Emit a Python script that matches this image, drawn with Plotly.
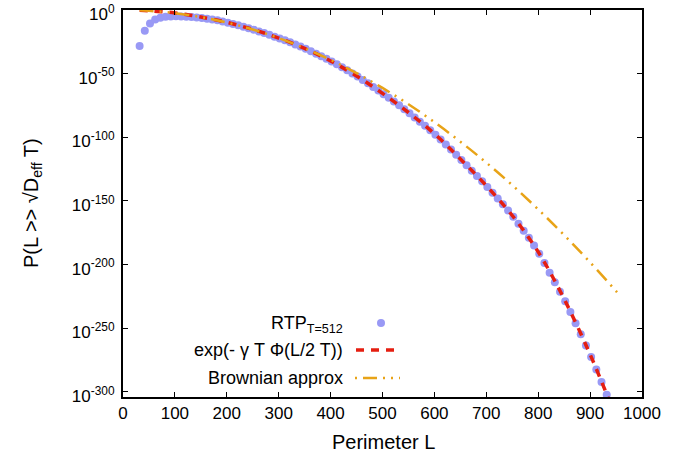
import numpy as np
import plotly.graph_objects as go

# ---- data (log10 of probability) ----
rtp_L = list(range(32, 933, 10))
rtp_log10P = [
    -28.3, -16.3, -10.5, -7.5, -6.0, -5.3, -5.0, -4.9, -5.0, -5.2,
    -5.5, -5.9, -6.3, -6.8, -7.4, -8.1, -9.0, -9.9, -10.9, -12.0,
    -13.1, -14.3, -15.5, -16.8, -18.1, -19.5, -20.9, -22.3, -23.8, -25.4,
    -27.0, -28.7, -30.5, -32.4, -34.3, -36.3, -38.3, -40.4, -42.6, -44.9,
    -47.3, -49.8, -52.3, -54.9, -57.6, -60.4, -63.2, -66.1, -69.0, -71.9,
    -74.9, -77.9, -81.1, -84.4, -87.7, -91.0, -94.5, -98.0, -101.8, -105.6,
    -109.6, -113.7, -117.8, -122.0, -126.2, -130.4, -134.6, -139.0, -143.5, -148.0,
    -152.6, -157.4, -162.4, -167.8, -173.3, -178.9, -185.0, -191.4, -198.8, -206.3,
    -213.8, -221.3, -228.7, -237.3, -246.0, -254.7, -263.5, -272.5, -282.3, -292.2,
    -302.2,
]

ldf_L = [32, 50, 75, 100, 150, 200, 250, 300, 350, 400, 450, 500, 550, 600,
         650, 700, 750, 800, 850, 900, 940]
ldf_log10P = [-0.25, -0.6, -1.35, -2.3, -5.5, -9.7, -15.2, -22.0, -30.2, -40.0,
              -51.8, -65.5, -80.5, -97.2, -117.0, -138.0, -161.4, -190.0, -227.0,
              -270.5, -310.0]

brown_L = [32, 50, 100, 150, 200, 250, 300, 350, 400, 450, 500, 550, 600,
           650, 700, 750, 800, 850, 900, 950, 958]
brown_log10P = [-0.25, -0.61, -2.45, -5.5, -9.8, -15.3, -22.0, -30.0, -39.2, -49.6,
                -61.2, -74.0, -88.1, -103.4, -119.9, -137.6, -156.6, -176.8,
                -198.2, -220.8, -224.6]

x_ticks = [0, 100, 200, 300, 400, 500, 600, 700, 800, 900, 1000]
y_tick_exps = [0, -50, -100, -150, -200, -250, -300]

# ---- styles ----
BLUE = "#9999f5"
RED = "#e51e10"
ORANGE = "#e8a317"
FONT = "Liberation Sans, Arial, Helvetica, sans-serif"

fig = go.Figure()
fig.add_trace(go.Scatter(
    x=rtp_L, y=10.0 ** np.array(rtp_log10P), mode="markers",
    marker=dict(color=BLUE, size=8, line=dict(width=0)),
    name="RTP", showlegend=False, cliponaxis=True))
fig.add_trace(go.Scatter(
    x=ldf_L, y=10.0 ** np.array(ldf_log10P), mode="lines",
    line=dict(color=RED, width=3.5, dash="8px,7px", shape="spline"),
    name="ldf", showlegend=False))
fig.add_trace(go.Scatter(
    x=brown_L, y=10.0 ** np.array(brown_log10P), mode="lines",
    line=dict(color=ORANGE, width=2.5, dash="14px,6px,2px,6px,2px,6px", shape="spline"),
    name="brown", showlegend=False))

# body margin is removed by the post script, so the figure sits at (0, 0)
OFF = 0
W, H = 692, 459
ml, mr, mt, mb = 123 - OFF, 50 + OFF, 10 - OFF, 62 + OFF
pw, ph = W - ml - mr, H - mt - mb

def px(xp):  # window pixel -> paper
    return (xp - OFF - ml) / pw

def py(yp):
    return (H - mb - (yp - OFF)) / ph

fig.update_layout(
    width=W, height=H,
    margin=dict(l=ml, r=mr, t=mt, b=mb, autoexpand=False),
    paper_bgcolor="white", plot_bgcolor="white",
    font=dict(family=FONT, size=17, color="black"),
    showlegend=False,
    xaxis=dict(
        range=[0, 1000], tickvals=x_ticks, ticktext=[str(v) for v in x_ticks],
        ticks="inside", ticklen=5, tickwidth=1, tickcolor="black",
        showline=True, linecolor="black", linewidth=2, mirror="allticks",
        showgrid=False, zeroline=False, automargin=False,
        ticklabeloverflow="allow",
        tickfont=dict(size=17),
    ),
    yaxis=dict(
        type="log", range=[-304.0, 0.02],
        tickvals=[10.0 ** e for e in y_tick_exps],
        ticktext=["10<sup>%d</sup>" % e for e in y_tick_exps],
        ticks="inside", ticklen=5, tickwidth=1, tickcolor="black",
        showline=True, linecolor="black", linewidth=2, mirror="allticks",
        showgrid=False, zeroline=False, automargin=False,
        ticklabelstandoff=3, ticklabelshift=4, ticklabeloverflow="allow",
        tickfont=dict(size=17),
    ),
)

# axis titles
fig.add_annotation(x=px(383), y=py(442), xref="paper", yref="paper",
                   text="Perimeter L", showarrow=False,
                   xanchor="center", yanchor="middle",
                   font=dict(family=FONT, size=20, color="black"))
fig.add_annotation(x=px(33), y=py(203), xref="paper", yref="paper",
                   text="P(L >> √D<sub>eff</sub> T)", showarrow=False, textangle=-90,
                   xanchor="center", yanchor="middle",
                   font=dict(family=FONT, size=20, color="black"))

# ---- gnuplot-style key (text right-aligned, sample on the right) ----
key_font = dict(family=FONT, size=18, color="black")
fig.add_annotation(x=px(345), y=py(324), xref="paper", yref="paper",
                   text="RTP<sub>T=512</sub>", showarrow=False,
                   xanchor="right", yanchor="middle", font=key_font)
fig.add_annotation(x=px(345), y=py(350), xref="paper", yref="paper",
                   text="exp(- γ T Φ(L/2 T))", showarrow=False,
                   xanchor="right", yanchor="middle", font=key_font)
fig.add_annotation(x=px(345), y=py(378), xref="paper", yref="paper",
                   text="Brownian approx", showarrow=False,
                   xanchor="right", yanchor="middle", font=key_font)

fig.add_shape(type="circle", xref="paper", yref="paper",
              xsizemode="pixel", ysizemode="pixel",
              xanchor=px(381), yanchor=py(323), x0=-4, x1=4, y0=-4, y1=4,
              fillcolor=BLUE, line=dict(width=0))
fig.add_shape(type="line", xref="paper", yref="paper",
              x0=px(356), x1=px(400), y0=py(350), y1=py(350),
              line=dict(color=RED, width=3.5, dash="8px,7px"))
fig.add_shape(type="line", xref="paper", yref="paper",
              x0=px(355), x1=px(400), y0=py(378), y1=py(378),
              line=dict(color=ORANGE, width=2.5, dash="2px,6px,14px,6px,2px,6px,2px,6px"))

fig.write_html("out.html",
               config=dict(displayModeBar=False, staticPlot=True),
               post_script="document.body.style.margin='0';document.body.style.padding='0';")
